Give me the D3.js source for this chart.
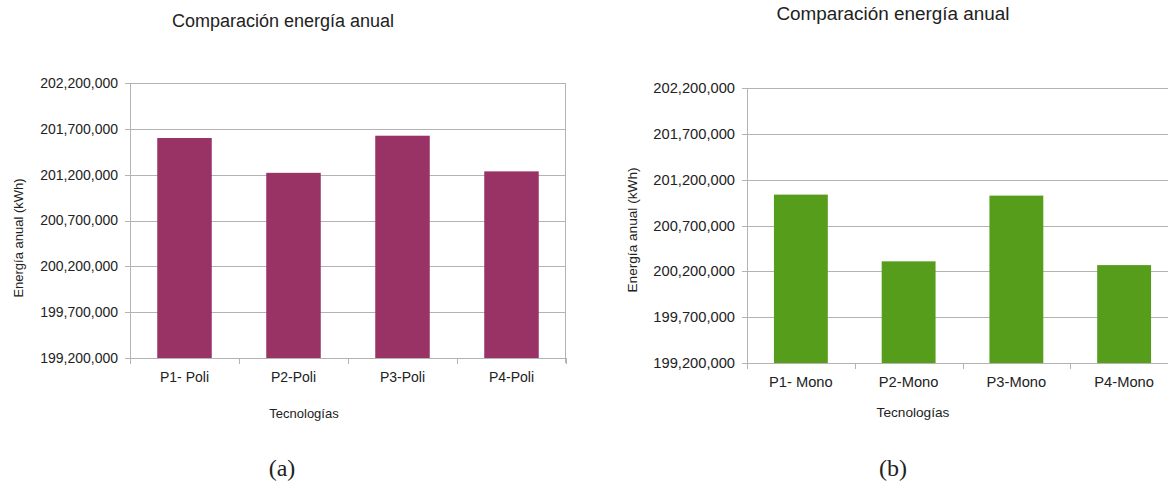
<!DOCTYPE html>
<html><head><meta charset="utf-8">
<script src="https://cdn.jsdelivr.net/npm/d3@7"></script>
<style>body{margin:0;background:#fff}svg{display:block}text{font-family:"Liberation Sans",Arial,sans-serif;fill:#222}</style>
</head><body>
<svg id="c" width="1168" height="485"></svg>
<script>
const title = "Comparación energía anual";
const yLabel = "Energía anual (kWh)";
const xLabel = "Tecnologías";
const yTicks = [199200000, 199700000, 200200000, 200700000, 201200000, 201700000, 202200000];
const catsPoli = ["P1- Poli", "P2-Poli", "P3-Poli", "P4-Poli"];
const valsPoli = [201600000, 201220000, 201625000, 201236000];
const catsMono = ["P1- Mono", "P2-Mono", "P3-Mono", "P4-Mono"];
const valsMono = [201037000, 200309000, 201026000, 200268000];

const svg = d3.select("#c");
const fmt = d3.format(",");

function chart(cfg){
  const s = cfg.fs;
  const g = svg.append("g");
  const x = d3.scaleBand().domain(cfg.cats).range([cfg.left, cfg.right]).paddingInner(0.5).paddingOuter(0.25);
  const y = d3.scaleLinear().domain([yTicks[0], yTicks[yTicks.length-1]]).range([cfg.bottom, cfg.top]);
  g.selectAll(".grid").data(yTicks).join("line")
    .attr("x1", cfg.left-5).attr("x2", cfg.right)
    .attr("y1", d=>Math.round(y(d))+0.5).attr("y2", d=>Math.round(y(d))+0.5)
    .attr("stroke", "#b3b3b3").attr("stroke-width", 1);
  g.append("line").attr("x1", cfg.left+0.5).attr("x2", cfg.left+0.5).attr("y1", cfg.top).attr("y2", cfg.bottom+5)
    .attr("stroke", "#b3b3b3");
  g.append("line").attr("x1", cfg.right-0.5).attr("x2", cfg.right-0.5).attr("y1", cfg.top).attr("y2", cfg.bottom+5)
    .attr("stroke", "#b3b3b3");
  const tickXs = d3.range(cfg.cats.length+1).map(i => cfg.left + i*(cfg.right-cfg.left)/cfg.cats.length);
  g.selectAll(".xt").data(tickXs).join("line")
    .attr("x1", d=>Math.round(d)+0.5).attr("x2", d=>Math.round(d)+0.5)
    .attr("y1", cfg.bottom).attr("y2", cfg.bottom+6).attr("stroke", "#b3b3b3");
  g.selectAll(".bar").data(cfg.vals).join("rect")
    .attr("x", (d,i)=>x(cfg.cats[i])).attr("width", x.bandwidth())
    .attr("y", d=>y(d)).attr("height", d=>cfg.bottom - y(d))
    .attr("fill", cfg.color);
  g.selectAll(".yl").data(yTicks).join("text")
    .attr("x", cfg.left-12).attr("y", d=>y(d)).attr("dy","0.35em")
    .attr("text-anchor","end").attr("font-size", 14*s).text(d=>fmt(d));
  g.selectAll(".xl").data(cfg.cats).join("text")
    .attr("x", d=>x(d)+x.bandwidth()/2).attr("y", cfg.bottom+24)
    .attr("text-anchor","middle").attr("font-size", 14*s).text(d=>d);
  g.append("text").attr("x", cfg.titleX).attr("y", cfg.titleY).attr("text-anchor","middle")
    .attr("font-size", 18*s).text(title);
  g.append("text").attr("transform", `translate(${cfg.yLabX},${cfg.yLabY}) rotate(-90)`).attr("dy","0.35em")
    .attr("text-anchor","middle").attr("font-size", 13*s).text(yLabel);
  g.append("text").attr("x", cfg.xLabX).attr("y", cfg.xLabY).attr("text-anchor","middle")
    .attr("font-size", 13*s).text(xLabel);
  g.append("text").attr("x", cfg.capX).attr("y", cfg.capY).attr("text-anchor","middle")
    .attr("font-size", 24).style("font-family", '"Liberation Serif","DejaVu Serif",serif').text(cfg.cap);
}

chart({cats: catsPoli, vals: valsPoli, color: "#993366", fs: 1,
  left: 130, right: 566, top: 83, bottom: 358,
  titleX: 283, titleY: 27, yLabX: 18, yLabY: 238, xLabX: 304, xLabY: 418, capX: 282, capY: 476, cap: "(a)"});
chart({cats: catsMono, vals: valsMono, color: "#579d1c", fs: 1.05,
  left: 747, right: 1178, top: 88, bottom: 363,
  titleX: 893, titleY: 20, yLabX: 632, yLabY: 230, xLabX: 913, xLabY: 417, capX: 893, capY: 476, cap: "(b)"});
</script>
</body></html>
